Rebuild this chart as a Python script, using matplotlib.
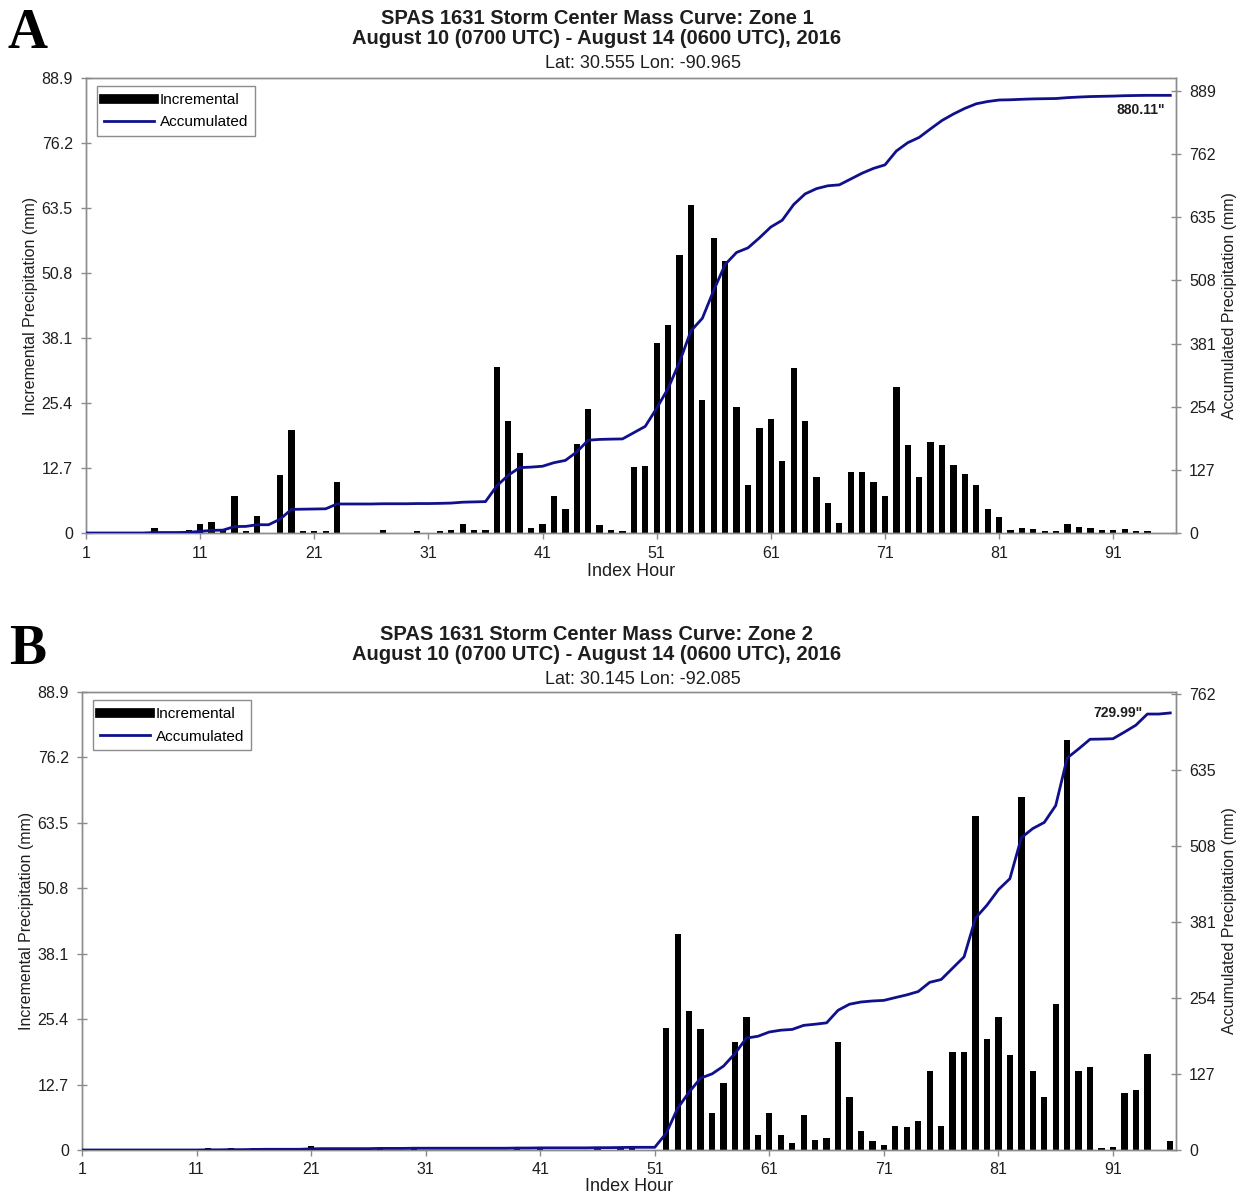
import numpy as np
import matplotlib
matplotlib.use("Agg")
import matplotlib.pyplot as plt
from matplotlib.lines import Line2D

plt.rcParams['font.family'] = ['Liberation Sans', 'DejaVu Sans']

# index hours 1..96
hours = np.arange(1, 97)

# Zone 1 incremental precipitation (mm)
inc_a = [0, 0, 0, 0, 0, 0, 1.0, 0, 0, 0.5,
         1.8, 2.1, 0.5, 7.3, 0.4, 3.4, 0, 11.4, 20.2, 0.4,
         0.4, 0.4, 9.9, 0, 0, 0, 0.5, 0, 0, 0.4,
         0, 0.4, 0.6, 1.8, 0.6, 0.6, 32.5, 21.9, 15.6, 1.0,
         1.8, 7.3, 4.7, 17.4, 24.2, 1.6, 0.6, 0.4, 12.9, 13.0,
         37.2, 40.7, 54.4, 64.1, 25.9, 57.7, 53.2, 24.7, 9.4, 20.6,
         22.3, 14.0, 32.2, 21.9, 10.9, 5.9, 1.9, 12.0, 12.0, 9.9,
         7.2, 28.6, 17.1, 10.9, 17.7, 17.1, 13.3, 11.6, 9.4, 4.7,
         3.1, 0.5, 1.0, 0.8, 0.4, 0.4, 1.8, 1.2, 1.0, 0.5,
         0.5, 0.8, 0.4, 0.3, 0, 0]

# Zone 2 incremental precipitation (mm)
inc_b = [0, 0, 0, 0, 0, 0, 0, 0, 0, 0,
         0, 0.3, 0, 0.3, 0, 0.3, 0.3, 0, 0, 0,
         0.8, 0.3, 0, 0, 0, 0, 0.4, 0, 0, 0.3,
         0, 0, 0, 0, 0, 0, 0, 0, 0.3, 0,
         0.3, 0, 0, 0, 0, 0.3, 0, 0.3, 0.3, 0,
         0, 23.6, 41.9, 26.9, 23.4, 7.1, 13.0, 21.0, 25.9, 3.0,
         7.2, 3.0, 1.3, 6.8, 1.9, 2.3, 21.0, 10.2, 3.7, 1.7,
         1.0, 4.7, 4.5, 5.6, 15.4, 4.7, 19.0, 19.0, 64.9, 21.6,
         25.9, 18.4, 68.6, 15.3, 10.2, 28.3, 79.5, 15.3, 16.1, 0.3,
         0.6, 11.1, 11.6, 18.6, 0, 1.8]

# storm totals printed on the chart
total_a = 880.11
total_b = 729.99

left_ticks = [0, 12.7, 25.4, 38.1, 50.8, 63.5, 76.2, 88.9]
left_labels = ['0', '12.7', '25.4', '38.1', '50.8', '63.5', '76.2', '88.9']
right_ticks_a = [0, 127, 254, 381, 508, 635, 762, 889]
right_ticks_b = [0, 127, 254, 381, 508, 635, 762]
x_ticks = list(range(1, 92, 10))

navy = '#10108c'
grey = '#8c8c8c'
txt = '#1e1e1e'

fig = plt.figure(figsize=(12.41, 11.95), dpi=100)


def panel(rect, inc, total, rmax, rticks, zone, latlon, letter, y_top, note_xy, xlab_y):
    inc = np.array(inc)
    acc = np.cumsum(inc) * total / inc.sum()

    ax = fig.add_axes(rect)
    ax.bar(hours, inc, width=0.55, color='black', zorder=2)
    ax.set_xlim(1, 96.5)
    ax.set_ylim(0, 88.9)
    ax.set_xticks(x_ticks)
    ax.set_yticks(left_ticks)
    ax.set_yticklabels(left_labels)
    ax.set_xlabel('Index Hour', fontsize=13, color=txt)
    ax.xaxis.set_label_coords(0.5, xlab_y)
    ax.set_ylabel('Incremental Precipitation (mm)', fontsize=11.5, color=txt)
    ax.yaxis.set_label_coords(-0.044, 0.5)

    ax2 = ax.twinx()
    ax2.plot(hours, acc, color=navy, lw=2.0, zorder=3)
    ax2.set_ylim(0, rmax)
    ax2.set_yticks(rticks)
    ax2.set_ylabel('Accumulated Precipitation (mm)', fontsize=11.5, color=txt)
    ax2.yaxis.set_label_coords(1.042, 0.5)
    ax2.text(note_xy[0], note_xy[1], '%.2f"' % total, transform=ax2.transAxes,
             ha='right', va='center', fontsize=10, fontweight='bold', color=txt)

    for a in (ax, ax2):
        for s in a.spines.values():
            s.set_color(grey)
            s.set_linewidth(1.0)
        a.tick_params(axis='y', direction='inout', length=7, width=1, color=grey,
                      labelsize=11.5, labelcolor=txt, pad=6)
        a.tick_params(axis='x', direction='out', length=4, width=1, color=grey,
                      labelsize=11.5, labelcolor=txt, pad=5)

    handles = [Line2D([0], [0], color='black', lw=7),
               Line2D([0], [0], color=navy, lw=2)]
    leg = ax2.legend(handles, ['Incremental', 'Accumulated'], loc='upper left',
                     bbox_to_anchor=(0.010, 0.982), borderaxespad=0, fontsize=11,
                     fancybox=False, edgecolor=grey, framealpha=1,
                     handlelength=3.3, handletextpad=0.35, labelspacing=0.55,
                     borderpad=0.45)
    leg.get_frame().set_linewidth(1.0)

    # headings above the panel
    fig.text(0.481, 1 - (y_top + 19) / 1195, 'SPAS 1631 Storm Center Mass Curve: ' + zone,
             ha='center', va='center', fontsize=14.5, fontweight='bold', color=txt)
    fig.text(0.481, 1 - (y_top + 38) / 1195,
             'August 10 (0700 UTC) - August 14 (0600 UTC), 2016',
             ha='center', va='center', fontsize=14.5, fontweight='bold', color=txt)
    fig.text(0.518, 1 - (y_top + 63) / 1195, latlon,
             ha='center', va='center', fontsize=13, color=txt)
    fig.text(0.022, 1 - (y_top + 34) / 1195, letter, ha='center', va='center',
             fontsize=40, fontweight='bold', family='Liberation Serif', color='black')


panel([86 / 1241, 1 - 533 / 1195, 1090 / 1241, 455 / 1195], inc_a, total_a, 915,
      right_ticks_a, 'Zone 1', 'Lat: 30.555 Lon: -90.965', 'A', 0, (0.990, 0.930), -0.066)
panel([82 / 1241, 1 - 1150 / 1195, 1094 / 1241, 458 / 1195], inc_b, total_b, 765,
      right_ticks_b, 'Zone 2', 'Lat: 30.145 Lon: -92.085', 'B', 616, (0.969, 0.954), -0.061)

fig.savefig('out.png', dpi=100)
